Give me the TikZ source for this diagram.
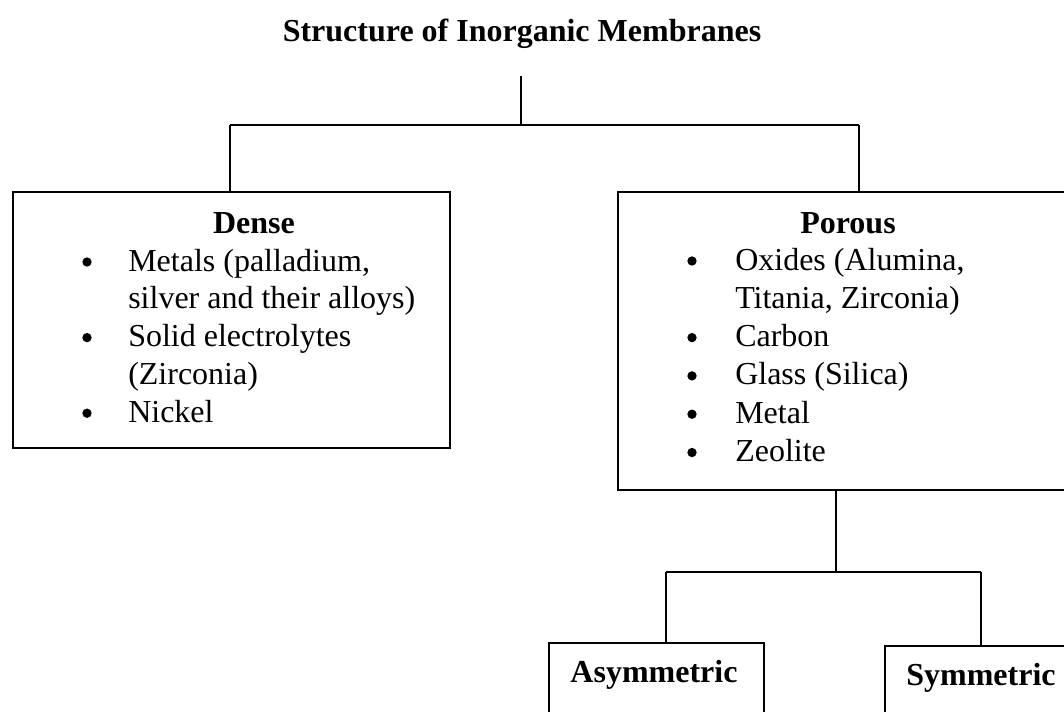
\documentclass[tikz,border=0pt]{standalone}
\usepackage{fontspec}
\setmainfont{Liberation Serif}
\begin{document}
\begin{tikzpicture}[x=0.75pt,y=-0.75pt,
  frame/.style={draw=black,line width=1.4pt,inner sep=0pt,anchor=north west},
  link/.style={draw=black,line width=1.4pt},
  txt/.style={font=\fontsize{24}{28}\selectfont,inner sep=0pt,anchor=base west},
  head/.style={font=\fontsize{24}{28}\selectfont\bfseries,inner sep=0pt,anchor=base},
  dot/.style={fill=black,circle,inner sep=0pt,minimum size=7pt}
]
\useasboundingbox (0,0) rectangle (1064,711);
\clip (0,0) rectangle (1064,711);

% title
\node[head] (title) at (522,41) {Structure of Inorganic Membranes};

% boxes
\node[frame,minimum width=327.75pt,minimum height=192pt] (dense) at (12,191) {};
\node[frame,minimum width=362.25pt,minimum height=223.5pt] (porous) at (617,191) {};
\node[frame,minimum width=161.25pt,minimum height=75pt] (asym) at (548,642) {};
\node[frame,minimum width=162pt,minimum height=75pt] (sym) at (884,645) {};

% box headings
\node[head] (denseh) at (254,233) {Dense};
\node[head] (poroush) at (848,233) {Porous};
\node[head] (asymh) at (654,682) {Asymmetric};
\node[head] (symh) at (981,685) {Symmetric};

% dense bullet list
\foreach \t [count=\i from 0] in {{Metals (palladium,},{silver and their alloys)},{Solid electrolytes},{(Zirconia)},{Nickel}}{
  \node[txt] (d\i) at (128,271+37.8*\i) {\t};
}
\foreach \i in {0,2,4}{
  \node[dot] (dd\i) at (87,262+37.8*\i) {};
}

% porous bullet list
\foreach \t [count=\i from 0] in {{Oxides (Alumina,},{Titania, Zirconia)},{Carbon},{Glass (Silica)},{Metal},{Zeolite}}{
  \node[txt] (p\i) at (735,270+38.3*\i) {\t};
}
\foreach \i in {0,2,3,4,5}{
  \node[dot] (pd\i) at (692,261+38.3*\i) {};
}

% upper connectors
\coordinate (stem) at (521,76);
\coordinate (bar1) at (521,125);
\coordinate (b1l) at (230,125);
\coordinate (b1r) at (859,125);
\draw[link] (stem) -- (bar1);
\draw[link] (b1l) -- (b1r);
\draw[link] (b1l) -- (b1l |- dense.north);
\draw[link] (b1r) -- (b1r |- porous.north);

% lower connectors
\coordinate (bar2) at (836,572);
\coordinate (b2l) at (666,572);
\coordinate (b2r) at (981,572);
\draw[link] (bar2 |- porous.south) -- (bar2);
\draw[link] (b2l) -- (b2r);
\draw[link] (b2l) -- (b2l |- asym.north);
\draw[link] (b2r) -- (b2r |- sym.north);
\end{tikzpicture}
\end{document}
